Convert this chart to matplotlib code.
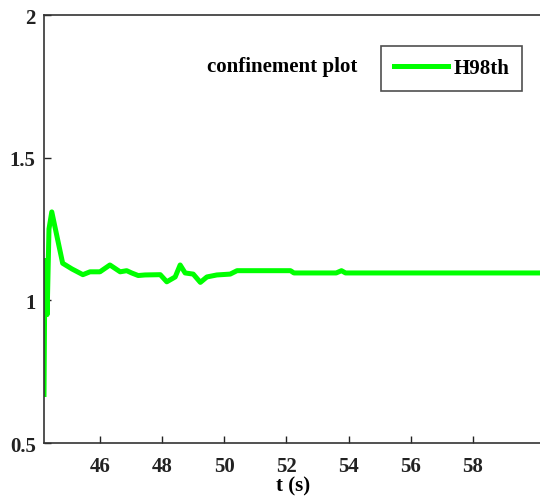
import matplotlib
matplotlib.use("Agg")
from matplotlib import pyplot as plt

# H98th confinement factor vs time
t = [44.20, 44.23, 44.30, 44.36, 44.45, 44.80, 45.10, 45.45, 45.68, 46.00,
     46.32, 46.65, 46.86, 47.02, 47.23, 47.45, 47.94, 48.15, 48.42, 48.58,
     48.74, 49.00, 49.23, 49.44, 49.76, 50.19, 50.41, 52.13, 52.24, 53.60,
     53.77, 53.90, 60.20]
h98 = [0.67, 1.14, 0.95, 1.25, 1.31, 1.13, 1.11, 1.09, 1.10, 1.10,
       1.124, 1.10, 1.104, 1.096, 1.087, 1.089, 1.090, 1.065, 1.082, 1.124,
       1.096, 1.092, 1.063, 1.082, 1.089, 1.092, 1.104, 1.104, 1.096, 1.096,
       1.104, 1.096, 1.096]

xticks = [46, 48, 50, 52, 54, 56, 58]
yticks = [0.5, 1, 1.5, 2]

plt.rcParams['font.family'] = 'Liberation Serif'
plt.rcParams['font.weight'] = 'bold'

fig = plt.figure(figsize=(5.4, 5.02), dpi=100)
ax = fig.add_axes([0.0815, 0.1155, 0.921, 0.8526])

ax.plot(t, h98, color='#00ff00', lw=3.6, label='H98th')

ax.set_xlim(44.2, 60.2)
ax.set_ylim(0.5, 2)
ax.set_xticks(xticks)
ax.set_xticklabels([str(x) for x in xticks])
ax.set_yticks(yticks)
ax.set_yticklabels(['0.5', '1', '1.5', '2'])
ax.tick_params(direction='in', length=5, width=1, labelsize=15, colors='#222222')
ax.tick_params(axis='x', pad=9)
ax.tick_params(axis='y', pad=6)
for s in ax.spines.values():
    s.set_color('#333333')
    s.set_linewidth(1.2)

ax.set_xlabel('t (s)', fontsize=15, fontweight='bold', labelpad=0)

ax.text(0.328, 0.88, 'confinement plot', transform=ax.transAxes,
        fontsize=15, fontweight='bold', va='center', ha='left')
leg = ax.legend(loc='upper right', bbox_to_anchor=(0.962, 0.928),
                borderaxespad=0, fontsize=15, frameon=True, fancybox=False,
                handlelength=2.6, borderpad=0.6, handletextpad=0.3)
leg.get_frame().set_edgecolor('#222222')
leg.get_frame().set_linewidth(1.2)

fig.savefig('out.png', dpi=100)
